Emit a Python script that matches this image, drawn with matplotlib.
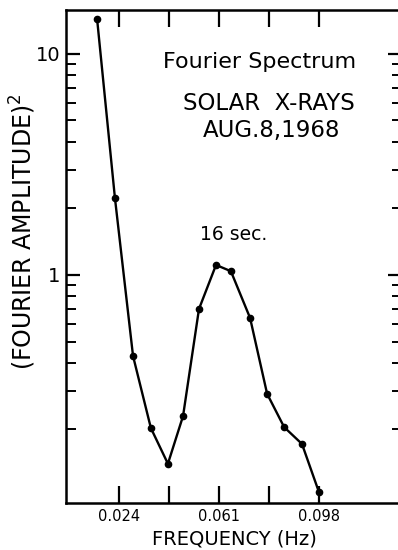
import numpy as np
import matplotlib.pyplot as plt
from matplotlib.ticker import FixedLocator, NullFormatter

# spectrum points, solar X-rays of Aug 8 1968
freq = [0.0159, 0.0225, 0.0292, 0.0358, 0.0421, 0.0477, 0.0536,
        0.0599, 0.0654, 0.0725, 0.0788, 0.0851, 0.0917, 0.0980]
power = [14.4, 2.23, 0.430, 0.203, 0.140, 0.230, 0.702,
         1.11, 1.04, 0.639, 0.290, 0.205, 0.172, 0.104]

xticks = [0.024, 0.0425, 0.061, 0.0795, 0.098]
xticklabels = ['0.024', '', '0.061', '', '0.098']
yticks = [1, 10]
yticklabels = ['1', '10']
yminor = [0.2, 0.3, 0.4, 0.5, 0.6, 0.7, 0.8, 0.9,
          2, 3, 4, 5, 6, 7, 8, 9]

W, H = 398, 550
fig = plt.figure(figsize=(W / 100, H / 100), dpi=100, facecolor='white')

# axes box runs slightly past the right edge of the figure
left, right, top, bottom = 66, 402, 10, 503
ax = fig.add_axes([left / W, 1 - bottom / H, (right - left) / W, (bottom - top) / H])

ax.plot(freq, power, '-', color='black', lw=1.7,
        marker='o', ms=4.5, mfc='black', mec='black')

ax.set_yscale('log')
ax.set_xlim(0.0044, 0.1287)
ax.set_ylim(0.093, 15.8)

ax.set_xticks(xticks)
ax.set_xticklabels(xticklabels)
ax.yaxis.set_major_locator(FixedLocator(yticks))
ax.set_yticklabels(yticklabels)
ax.yaxis.set_minor_locator(FixedLocator(yminor))
ax.yaxis.set_minor_formatter(NullFormatter())
ax.xaxis.set_minor_locator(FixedLocator([]))

ax.tick_params(axis='both', which='major', direction='in', length=10, width=1.6,
               top=True, right=True)
ax.tick_params(axis='x', which='major', length=12, labelsize=10.5, pad=4)
ax.tick_params(axis='y', which='major', labelsize=14, pad=4)
ax.tick_params(axis='y', which='minor', direction='in', length=7, width=1.4,
               right=True)

for s in ax.spines.values():
    s.set_linewidth(1.8)

ax.set_xlabel('FREQUENCY (Hz)', fontsize=14, labelpad=4)
ax.set_ylabel('(FOURIER AMPLITUDE)$^2$', fontsize=17, labelpad=4)
ax.yaxis.set_label_coords(-0.083, 0.55)

fig.text(260 / W, 1 - 62 / H, 'Fourier Spectrum', fontsize=16, ha='center', va='center')
fig.text(269 / W, 1 - 103 / H, 'SOLAR  X-RAYS', fontsize=16.5, ha='center', va='center')
fig.text(272 / W, 1 - 130 / H, 'AUG.8,1968', fontsize=16.5, ha='center', va='center')
fig.text(234 / W, 1 - 235 / H, '16 sec.', fontsize=13.5, ha='center', va='center')

fig.savefig('out.png', dpi=100)
